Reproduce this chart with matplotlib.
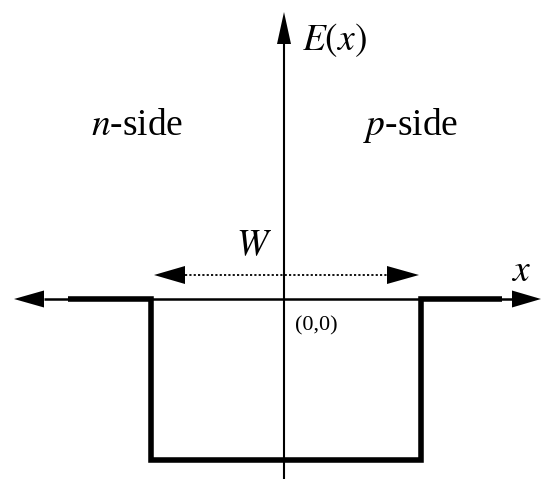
import matplotlib
matplotlib.use("Agg")
import matplotlib.pyplot as plt
from matplotlib.patches import Polygon

plt.rcParams['mathtext.fontset'] = 'stix'
plt.rcParams['font.family'] = ['Liberation Serif', 'DejaVu Serif']

# Electric field profile E(x) (diagram units, origin at (0,0))
profile_x = [-216, -133, -133, 137, 137, 218]
profile_y = [0, 0, -161, -161, 0, 0]

# Axes extents
xaxis_range = [-270, 257]
yaxis_range = [-185, 287]
# Depletion width W arrow
w_range = [-130, 135]
w_level = 24

labels = {
    'ylabel': r'$E(x)$',
    'xlabel': r'$x$',
    'left': r'$n$-side',
    'right': r'$p$-side',
    'width': r'$W$',
    'origin': '(0,0)',
}

fig = plt.figure(figsize=(5.43, 4.79), dpi=100)
ax = fig.add_axes([0, 0, 1, 1])
ax.set_xlim(-284, 259)
ax.set_ylim(-180, 299)
ax.axis('off')


def head(ax, tip, direction, length, half):
    tx, ty = tip
    dx, dy = direction
    bx, by = tx - dx * length, ty - dy * length
    px, py = -dy, dx
    pts = [(tx, ty), (bx + px * half, by + py * half), (bx - px * half, by - py * half)]
    ax.add_patch(Polygon(pts, closed=True, color='black', lw=0))
    return bx, by

# x axis
lb, _ = head(ax, (xaxis_range[0], 0), (-1, 0), 30, 8.5)
rb, _ = head(ax, (xaxis_range[1], 0), (1, 0), 29, 8.5)
ax.plot([lb, rb], [0, 0], color='black', lw=1.8, solid_capstyle='butt')

# y axis
_, tb = head(ax, (0, yaxis_range[1]), (0, 1), 32, 7)
ax.plot([0, 0], [yaxis_range[0], tb], color='black', lw=1.5, solid_capstyle='butt')

# profile
ax.plot(profile_x, profile_y, color='black', lw=4, solid_joinstyle='miter', solid_capstyle='butt')

# W arrow (dotted)
wl, _ = head(ax, (w_range[0], w_level), (-1, 0), 31, 9)
wr, _ = head(ax, (w_range[1], w_level), (1, 0), 32, 9)
ax.plot([wl, wr], [w_level, w_level], color='black', lw=1.3, linestyle=(0, (1.2, 1.2)))

fs = 27
serif = ['Liberation Serif', 'DejaVu Serif']
ax.text(50, 259, labels['ylabel'], fontsize=fs, ha='center', va='center', family=serif)
ax.text(237, 27, labels['xlabel'], fontsize=fs, ha='center', va='center', family=serif)
ax.text(-147, 164, labels['left'], fontsize=fs, ha='center', va='baseline', family=serif)
ax.text(127, 164, labels['right'], fontsize=fs, ha='center', va='baseline', family=serif)
ax.text(-30, 53, labels['width'], fontsize=fs, ha='center', va='center', family=serif)
ax.text(32, -27, labels['origin'], fontsize=16, ha='center', va='center', family=serif)

fig.savefig('out.png', dpi=100, facecolor='white')
